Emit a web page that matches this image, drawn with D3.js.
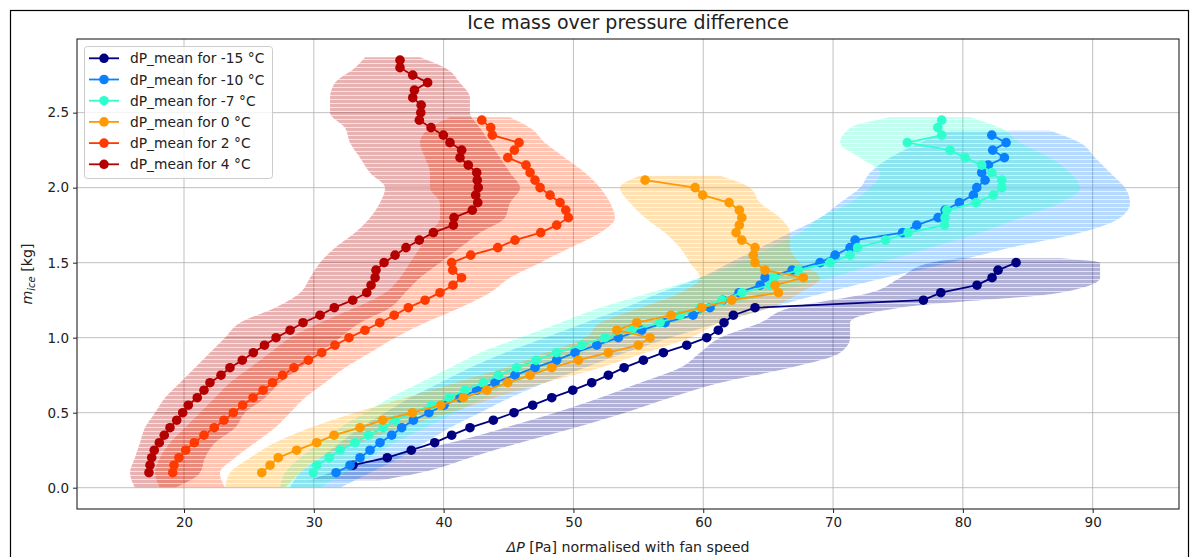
<!DOCTYPE html>
<html>
<head>
<meta charset="utf-8">
<script src="https://cdn.jsdelivr.net/npm/d3@7"></script>
<style>
  html, body { margin: 0; padding: 0; background: #fff; }
  svg { display: block; font-family: "DejaVu Sans", sans-serif; }
</style>
</head>
<body>
<svg id="chart" width="1197" height="557"></svg>
<script>
// ---------------- DATA ----------------
const seriesNames = ["dP_mean for -15 °C", "dP_mean for -10 °C", "dP_mean for -7 °C",
                     "dP_mean for 0 °C", "dP_mean for 2 °C", "dP_mean for 4 °C"];
const seriesColors = ["#000080", "#0a80ff", "#2effcc", "#ff9a00", "#ff3a00", "#b40000"];
const xTicks = [20, 30, 40, 50, 60, 70, 80, 90];
const yTicks = [0.0, 0.5, 1.0, 1.5, 2.0, 2.5];

// mean curves: [m_ice (kg), dP (Pa)]
const mean_m15 = [[0.15,33.02],[0.20,35.66],[0.25,37.51],[0.30,39.31],[0.35,40.62],[0.40,42.03],[0.45,43.83],
  [0.50,45.42],[0.55,46.86],[0.60,48.33],[0.65,49.95],[0.70,51.41],[0.75,52.69],[0.80,53.90],[0.85,55.39],
  [0.90,56.93],[0.95,58.73],[1.00,60.27],[1.05,61.16],[1.10,61.60],[1.15,62.32],[1.20,63.99],[1.25,76.96],
  [1.30,78.30],[1.35,81.09],[1.40,82.25],[1.45,82.71],[1.50,84.10]];
const mean_m10 = [[0.10,31.71],[0.15,32.79],[0.20,33.56],[0.25,34.33],[0.30,35.10],[0.35,36.00],[0.40,36.77],
  [0.45,37.67],[0.50,38.87],[0.55,40.03],[0.60,41.26],[0.65,42.55],[0.70,43.96],[0.75,45.50],[0.80,47.04],
  [0.85,48.71],[0.90,50.12],[0.95,51.80],[1.00,53.46],[1.05,55.26],[1.10,57.06],[1.15,59.21],[1.20,60.52],
  [1.25,61.50],[1.30,62.76],[1.35,64.38],[1.40,64.76],[1.45,66.84],[1.50,69.00],[1.55,70.16],[1.60,71.31],
  [1.65,71.70],[1.70,75.35],[1.75,76.45],[1.80,78.09],[1.85,78.63],[1.90,79.73],[1.95,80.81],[2.00,81.07],
  [2.05,81.71],[2.10,81.45],[2.15,81.96],[2.20,83.20],[2.25,82.30],[2.30,83.33],[2.35,82.23]];
const mean_m7 = [[0.10,29.96],[0.15,30.22],[0.20,31.19],[0.25,32.02],[0.30,33.17],[0.35,34.20],[0.40,35.35],
  [0.45,36.26],[0.50,37.64],[0.55,39.08],[0.60,40.44],[0.65,41.65],[0.70,43.06],[0.75,44.21],[0.80,45.63],
  [0.85,47.12],[0.90,48.71],[0.95,50.64],[1.00,52.43],[1.05,54.49],[1.10,56.67],[1.15,58.21],[1.20,59.75],
  [1.25,61.43],[1.30,62.99],[1.35,65.15],[1.40,65.45],[1.45,67.33],[1.50,69.77],[1.55,71.31],[1.60,71.89],
  [1.65,74.04],[1.70,75.78],[1.75,78.59],[1.80,78.63],[1.85,78.76],[1.90,81.02],[1.95,82.35],[2.00,83.00],
  [2.05,83.00],[2.10,82.23],[2.15,81.45],[2.20,80.17],[2.25,79.01],[2.30,75.72],[2.35,78.37],[2.40,78.07],
  [2.45,78.37]];
const mean_0 = [[0.10,25.99],[0.15,26.63],[0.20,27.26],[0.25,28.68],[0.30,30.22],[0.35,31.56],[0.40,33.56],
  [0.45,35.31],[0.50,37.59],[0.55,39.78],[0.60,41.52],[0.65,43.32],[0.70,44.94],[0.75,46.66],[0.80,48.33],
  [0.85,50.38],[0.90,52.69],[0.95,55.00],[1.00,55.90],[1.05,53.34],[1.10,54.88],[1.15,57.52],[1.20,59.88],
  [1.25,62.20],[1.30,65.79],[1.35,65.53],[1.40,67.71],[1.45,64.76],[1.50,63.99],[1.55,63.86],[1.60,63.99],
  [1.65,62.97],[1.70,62.53],[1.75,62.78],[1.80,62.97],[1.85,62.78],[1.90,61.99],[1.95,59.96],[2.00,59.37],
  [2.05,55.52]];
const mean_2 = [[0.10,19.13],[0.15,19.23],[0.20,19.61],[0.25,20.13],[0.30,20.79],[0.35,21.54],[0.40,22.33],
  [0.45,23.08],[0.50,23.80],[0.55,24.52],[0.60,25.32],[0.65,26.09],[0.70,26.82],[0.75,27.60],[0.80,28.47],
  [0.85,29.58],[0.90,30.61],[0.95,31.63],[1.00,32.71],[1.05,33.94],[1.10,35.08],[1.15,36.19],[1.20,37.28],
  [1.25,38.57],[1.30,39.72],[1.35,40.72],[1.40,41.38],[1.45,40.70],[1.50,40.62],[1.55,42.09],[1.60,44.17],
  [1.65,45.50],[1.70,47.48],[1.75,48.71],[1.80,49.61],[1.85,49.41],[1.90,48.97],[1.95,48.20],[2.00,47.43],
  [2.05,47.04],[2.10,46.66],[2.15,46.35],[2.20,44.94],[2.25,45.45],[2.30,45.81],[2.35,43.75],[2.40,43.63],
  [2.45,42.94]];
const mean_4 = [[0.10,17.30],[0.15,17.38],[0.20,17.51],[0.25,17.71],[0.30,18.10],[0.35,18.48],[0.40,18.92],
  [0.45,19.44],[0.50,19.90],[0.55,20.33],[0.60,21.02],[0.65,21.54],[0.70,22.00],[0.75,22.85],[0.80,23.54],
  [0.85,24.49],[0.90,25.34],[0.95,26.20],[1.00,27.09],[1.05,28.17],[1.10,29.17],[1.15,30.48],[1.20,31.58],
  [1.25,33.00],[1.30,34.08],[1.35,34.41],[1.40,34.72],[1.45,34.79],[1.50,35.41],[1.55,36.26],[1.60,37.10],
  [1.65,38.13],[1.70,39.21],[1.75,40.75],[1.80,40.80],[1.85,42.21],[1.90,42.63],[1.95,42.47],[2.00,42.67],
  [2.05,42.59],[2.10,42.55],[2.15,41.90],[2.20,41.26],[2.25,41.39],[2.30,40.49],[2.35,39.98],[2.40,39.03],
  [2.45,38.13],[2.50,38.24],[2.55,38.27],[2.60,37.62],[2.65,37.75],[2.70,38.77],[2.75,37.62],[2.80,36.64],
  [2.85,36.64]];

// spread of raw measurements: [m_ice (kg), dP min, dP max]
const band_m15 = [[0.05,29.71,35.10],[0.10,31.25,38.18],[0.20,35.10,42.03],[0.30,40.49,45.89],[0.40,44.73,50.12],
  [0.50,48.59,53.97],[0.60,52.05,57.44],[0.70,55.13,61.29],[0.80,58.21,66.69],[0.90,59.75,70.54],[1.00,61.29,71.31],
  [1.10,64.38,71.31],[1.20,66.69,75.16],[1.30,72.85,87.49],[1.40,75.16,90.57],[1.50,77.47,90.57],[1.53,79.78,87.49]];
const band_m10 = [[0.00,28.17,32.02],[0.10,28.94,34.33],[0.20,30.48,36.64],[0.30,32.02,38.57],[0.40,33.56,40.49],
  [0.50,35.49,42.80],[0.60,37.41,45.12],[0.70,39.72,47.81],[0.80,42.03,50.89],[0.90,44.73,53.97],[1.00,47.81,57.44],
  [1.10,50.89,61.29],[1.20,53.97,65.15],[1.30,56.67,69.39],[1.40,59.75,74.01],[1.50,62.06,79.01],[1.60,64.38,83.64],
  [1.70,66.69,89.03],[1.80,69.00,92.11],[1.90,70.54,92.88],[2.00,72.08,92.49],[2.10,72.85,91.34],[2.20,74.39,90.19],
  [2.30,76.70,89.03],[2.38,79.01,86.72]];
const band_m7 = [[0.00,27.40,30.48],[0.10,27.78,32.40],[0.20,28.94,34.33],[0.30,30.48,36.26],[0.40,32.02,38.57],
  [0.50,33.94,40.88],[0.60,35.87,43.19],[0.70,38.18,45.50],[0.80,40.49,48.20],[0.90,42.80,50.89],[1.00,45.89,53.97],
  [1.10,48.97,57.82],[1.20,52.05,61.68],[1.30,55.90,65.53],[1.40,59.75,69.77],[1.50,62.83,73.62],[1.60,65.15,77.47],
  [1.70,67.46,81.32],[1.80,69.00,84.41],[1.90,71.31,87.49],[2.00,72.85,89.03],[2.10,73.62,88.26],[2.20,72.08,86.72],
  [2.30,70.54,84.41],[2.40,71.31,82.87],[2.47,74.39,80.55]];
const band_0 = [[0.00,23.16,27.78],[0.10,23.54,28.94],[0.20,25.08,30.48],[0.30,27.01,33.56],[0.40,29.71,36.64],
  [0.50,33.17,40.49],[0.60,37.03,43.96],[0.70,40.88,47.81],[0.80,44.73,52.05],[0.90,47.81,55.52],[1.00,50.89,58.98],
  [1.10,52.05,61.29],[1.20,55.13,65.15],[1.30,58.21,67.46],[1.40,59.75,69.00],[1.50,58.98,67.46],[1.60,58.21,66.69],
  [1.70,57.05,66.69],[1.80,55.52,65.92],[1.90,54.36,64.38],[2.00,53.59,63.60],[2.08,55.13,61.29]];
const band_2 = [[0.00,18.15,23.16],[0.10,17.77,22.77],[0.20,18.15,23.93],[0.30,18.92,25.47],[0.40,20.08,27.01],
  [0.50,21.23,28.17],[0.60,22.39,29.32],[0.70,23.54,30.86],[0.80,25.08,32.40],[0.90,26.63,34.33],[1.00,28.17,36.26],
  [1.10,30.48,38.57],[1.20,33.17,41.26],[1.30,35.49,43.57],[1.40,36.64,45.12],[1.50,37.41,47.43],[1.60,38.18,49.74],
  [1.70,38.95,52.05],[1.80,39.72,53.20],[1.90,39.72,52.82],[2.00,38.95,52.05],[2.10,38.95,50.89],[2.20,38.57,49.35],
  [2.30,38.18,47.81],[2.40,38.95,46.66],[2.47,40.49,45.12]];
const band_4 = [[0.00,16.22,19.31],[0.10,15.84,21.23],[0.20,16.22,21.62],[0.30,16.61,22.39],[0.40,16.99,23.93],
  [0.50,17.77,24.70],[0.60,18.54,26.24],[0.70,19.69,27.40],[0.80,20.85,28.94],[0.90,22.00,30.48],[1.00,23.16,32.02],
  [1.10,24.31,33.56],[1.20,27.01,35.87],[1.30,28.94,37.03],[1.40,29.71,38.18],[1.50,30.48,39.72],[1.60,31.63,41.26],
  [1.70,33.17,42.80],[1.80,34.33,44.73],[1.90,35.10,45.12],[2.00,35.49,45.89],[2.10,34.33,45.12],[2.20,33.56,44.35],
  [2.30,32.79,43.57],[2.40,32.40,42.80],[2.50,31.25,42.03],[2.60,31.25,42.03],[2.70,31.63,41.26],[2.80,33.17,40.11],
  [2.87,33.94,38.18]];

const means = [mean_m15, mean_m10, mean_m7, mean_0, mean_2, mean_4];
const bands = [band_m15, band_m10, band_m7, band_0, band_2, band_4];

// ---------------- LAYOUT ----------------
const svg = d3.select("#chart");
const W = 1197, H = 557;
const plot = {left: 77, right: 1179, top: 39, bottom: 509};

const x = d3.scaleLinear().domain([11.757, 96.65]).range([plot.left, plot.right]);
const y = d3.scaleLinear().domain([-0.142, 2.991]).range([plot.bottom, plot.top]);

// outer figure frame
svg.append("rect").attr("x", 10.5).attr("y", 10.5).attr("width", 1178).attr("height", 600)
  .attr("fill", "#fff").attr("stroke", "#000").attr("stroke-width", 1.2);

const defs = svg.append("defs");
defs.append("clipPath").attr("id", "clip").append("rect")
  .attr("x", plot.left).attr("y", plot.top)
  .attr("width", plot.right - plot.left).attr("height", plot.bottom - plot.top);
// horizontal line texture for spread bands
const pat = defs.append("pattern").attr("id", "hlines").attr("patternUnits", "userSpaceOnUse")
  .attr("width", 8).attr("height", 4);
pat.append("rect").attr("width", 8).attr("height", 4).attr("fill", "#fff");
pat.append("rect").attr("y", 3).attr("width", 8).attr("height", 1).attr("fill", "#555");
defs.append("mask").attr("id", "texmask").append("rect")
  .attr("x", 0).attr("y", 0).attr("width", W).attr("height", H).attr("fill", "url(#hlines)");

// grid
const grid = svg.append("g");
grid.selectAll(".gx").data(xTicks).join("line")
  .attr("x1", d => x(d)).attr("x2", d => x(d)).attr("y1", plot.top).attr("y2", plot.bottom)
  .attr("stroke", "#b0b0b0").attr("stroke-width", 0.8);
grid.selectAll(".gy").data(yTicks).join("line")
  .attr("x1", plot.left).attr("x2", plot.right).attr("y1", d => y(d)).attr("y2", d => y(d))
  .attr("stroke", "#b0b0b0").attr("stroke-width", 0.8);

// bands
const area = d3.area()
  .y(d => y(d[0])).x0(d => x(d[1])).x1(d => x(d[2]))
  .curve(d3.curveMonotoneY);
const bandG = svg.append("g").attr("clip-path", "url(#clip)");
bands.forEach((b, i) => {
  const g = bandG.append("g").attr("mask", "url(#texmask)");
  g.append("path").attr("d", area(b)).attr("fill", seriesColors[i]).attr("fill-opacity", 0.3);
});

// mean lines + markers
const line = d3.line().x(d => x(d[1])).y(d => y(d[0]));
const lineG = svg.append("g").attr("clip-path", "url(#clip)");
means.forEach((s, i) => {
  lineG.append("path").attr("d", line(s)).attr("fill", "none")
    .attr("stroke", seriesColors[i]).attr("stroke-width", 1.8);
  lineG.selectAll(null).data(s).join("circle")
    .attr("cx", d => x(d[1])).attr("cy", d => y(d[0])).attr("r", 4.8)
    .attr("fill", seriesColors[i]);
});

// axes
const xAxis = svg.append("g").attr("transform", `translate(0,${plot.bottom})`)
  .call(d3.axisBottom(x).tickValues(xTicks).tickSize(4).tickPadding(4).tickFormat(d3.format("d")));
const yAxis = svg.append("g").attr("transform", `translate(${plot.left},0)`)
  .call(d3.axisLeft(y).tickValues(yTicks).tickSize(4).tickPadding(4).tickFormat(d3.format(".1f")));
[xAxis, yAxis].forEach(a => {
  a.select(".domain").remove();
  a.selectAll("text").attr("font-family", "DejaVu Sans").attr("font-size", 13.5).attr("fill", "#222");
  a.selectAll("line").attr("stroke", "#222");
});
// frame of plot area
svg.append("rect").attr("x", plot.left).attr("y", plot.top)
  .attr("width", plot.right - plot.left).attr("height", plot.bottom - plot.top)
  .attr("fill", "none").attr("stroke", "#222").attr("stroke-width", 1.1);

// title and labels
svg.append("text").attr("x", (plot.left + plot.right) / 2).attr("y", 29)
  .attr("text-anchor", "middle").attr("font-size", 19).attr("fill", "#222")
  .text("Ice mass over pressure difference");
const xl = svg.append("text").attr("x", (plot.left + plot.right) / 2).attr("y", 552)
  .attr("text-anchor", "middle").attr("font-size", 14.2).attr("fill", "#222");
xl.append("tspan").attr("font-style", "italic").text("ΔP");
xl.append("tspan").text(" [Pa] normalised with fan speed");
const yl = svg.append("text").attr("transform", `translate(32,${(plot.top + plot.bottom) / 2}) rotate(-90)`)
  .attr("text-anchor", "middle").attr("font-size", 14.2).attr("fill", "#222");
yl.append("tspan").attr("font-style", "italic").text("m");
yl.append("tspan").attr("font-style", "italic").attr("font-size", 10).attr("dy", 3).text("ice");
yl.append("tspan").attr("dy", -3).text(" [kg]");

// legend
const lg = svg.append("g");
lg.append("rect").attr("x", 84.5).attr("y", 46.5).attr("width", 188).attr("height", 132).attr("rx", 3)
  .attr("fill", "#fff").attr("fill-opacity", 0.8).attr("stroke", "#ccc");
seriesNames.forEach((n, i) => {
  const yy = 58.3 + i * 21.2;
  lg.append("line").attr("x1", 89).attr("x2", 119).attr("y1", yy).attr("y2", yy)
    .attr("stroke", seriesColors[i]).attr("stroke-width", 1.8);
  lg.append("circle").attr("cx", 104).attr("cy", yy).attr("r", 4.8).attr("fill", seriesColors[i]);
  lg.append("text").attr("x", 130).attr("y", yy + 5).attr("font-size", 13.8).attr("fill", "#222").text(n);
});
</script>
</body>
</html>
